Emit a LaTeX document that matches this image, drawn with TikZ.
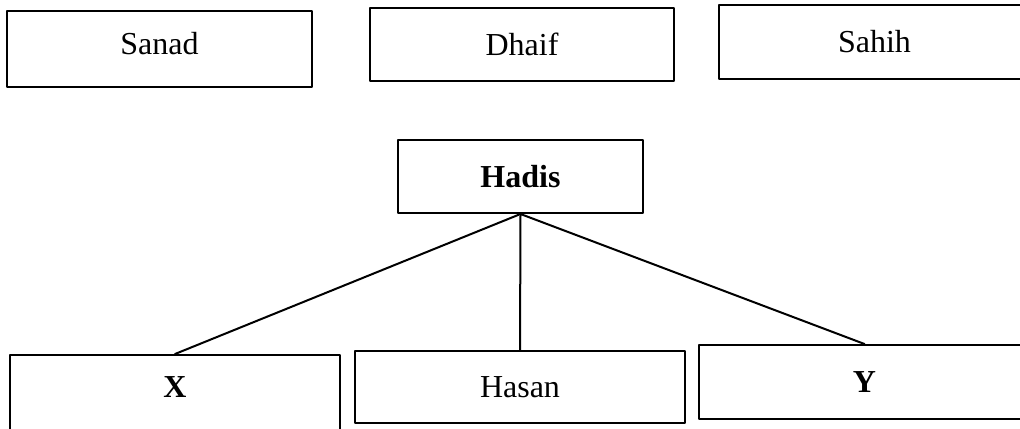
\documentclass[tikz,border=0pt]{standalone}
\usepackage{fontspec}
\setmainfont{Liberation Serif}
\usetikzlibrary{calc}

\begin{document}
\begin{tikzpicture}[
  x=0.75pt, y=-0.75pt,
  line cap=round,
  line join=round,
  box/.style={draw, line width=1.5pt, inner sep=0pt, font=\fontsize{24}{28}\selectfont},
  link/.style={line width=1.5pt}
]

% --- Frame of the page ---
\useasboundingbox (0,0) rectangle (1020,428);
\clip (0,0) rectangle (1020,428);

% --- Top row ---
\node[box, minimum width=305*0.75pt, minimum height=76*0.75pt, text depth=8pt] (sanad) at (159.5,49)  {Sanad};
\node[box, minimum width=304*0.75pt, minimum height=73*0.75pt] (dhaif) at (522,44.5)  {Dhaif};
\node[box, minimum width=311*0.75pt, minimum height=74*0.75pt] (sahih) at (874.5,42)  {Sahih};

% --- Root ---
\node[box, minimum width=245*0.75pt, minimum height=73*0.75pt] (hadis) at (520.5,176.5) {\textbf{Hadis}};

% --- Bottom row ---
\node[box, minimum width=330*0.75pt, minimum height=77*0.75pt, text depth=10pt] (x) at (175,393.5) {\textbf{X}};
\node[box, minimum width=330*0.75pt, minimum height=72*0.75pt] (hasan) at (520,387) {Hasan};
\node[box, minimum width=331*0.75pt, minimum height=74*0.75pt] (y) at (864.5,382) {\textbf{Y}};

% --- Branches ---
\draw[link] (hadis.south) -- (x.north);
\draw[link] (hadis.south) -- (hasan.north);
\draw[link] (hadis.south) -- (y.north);

\end{tikzpicture}
\end{document}
